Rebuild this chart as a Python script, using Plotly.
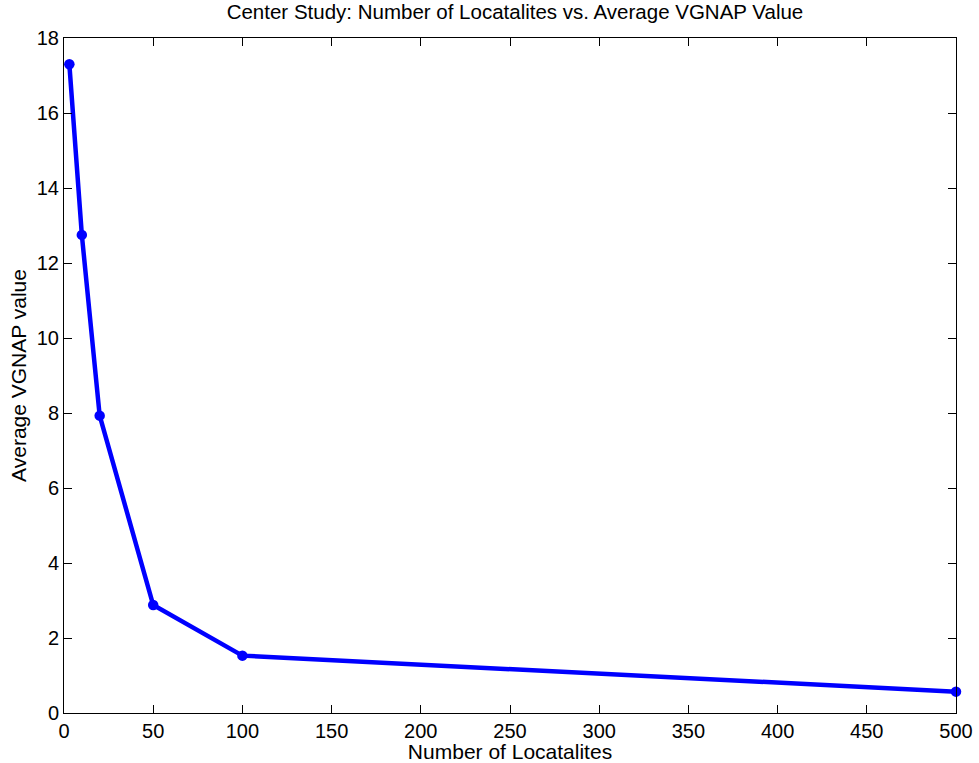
import plotly.graph_objects as go

num_localities = [3, 10, 20, 50, 100, 500]
avg_vgnap = [17.3, 12.75, 7.93, 2.88, 1.53, 0.57]
x_ticks = [0, 50, 100, 150, 200, 250, 300, 350, 400, 450, 500]
y_ticks = [0, 2, 4, 6, 8, 10, 12, 14, 16, 18]

FONT = "Liberation Sans, Arial, Helvetica"

fig = go.Figure()
fig.add_trace(go.Scatter(
    x=num_localities, y=avg_vgnap, mode="lines+markers",
    line=dict(color="#0000FF", width=4.5),
    marker=dict(color="#0000FF", size=10.5),
    showlegend=False, cliponaxis=False,
))

axis_common = dict(
    showline=True, linecolor="black", linewidth=1, mirror="ticks",
    ticks="inside", ticklen=8, tickcolor="black", showgrid=False, zeroline=False,
    automargin=False,
    tickfont=dict(family=FONT, size=20, color="black"),
)

fig.update_layout(
    width=979, height=763,
    margin=dict(l=64, r=23, t=38, b=50),
    paper_bgcolor="white", plot_bgcolor="white",
    title=dict(text="Center Study: Number of Locatalites vs. Average VGNAP Value",
               x=0.526, xanchor="center", y=0.984, yanchor="middle",
               font=dict(family=FONT, size=20.5, color="black")),
    xaxis=dict(range=[0, 500], tickvals=x_ticks, ticklabelstandoff=0,
               title=dict(text="Number of Locatalites", standoff=0,
                          font=dict(family=FONT, size=21, color="black")),
               **axis_common),
    yaxis=dict(range=[0, 18], tickvals=y_ticks, ticklabelstandoff=0,
               title=dict(text="Average VGNAP value", standoff=4,
                          font=dict(family=FONT, size=21, color="black")),
               **axis_common),
)

fig.write_html("out.html", config={"displayModeBar": False},
               post_script="document.body.style.margin='0px';")
